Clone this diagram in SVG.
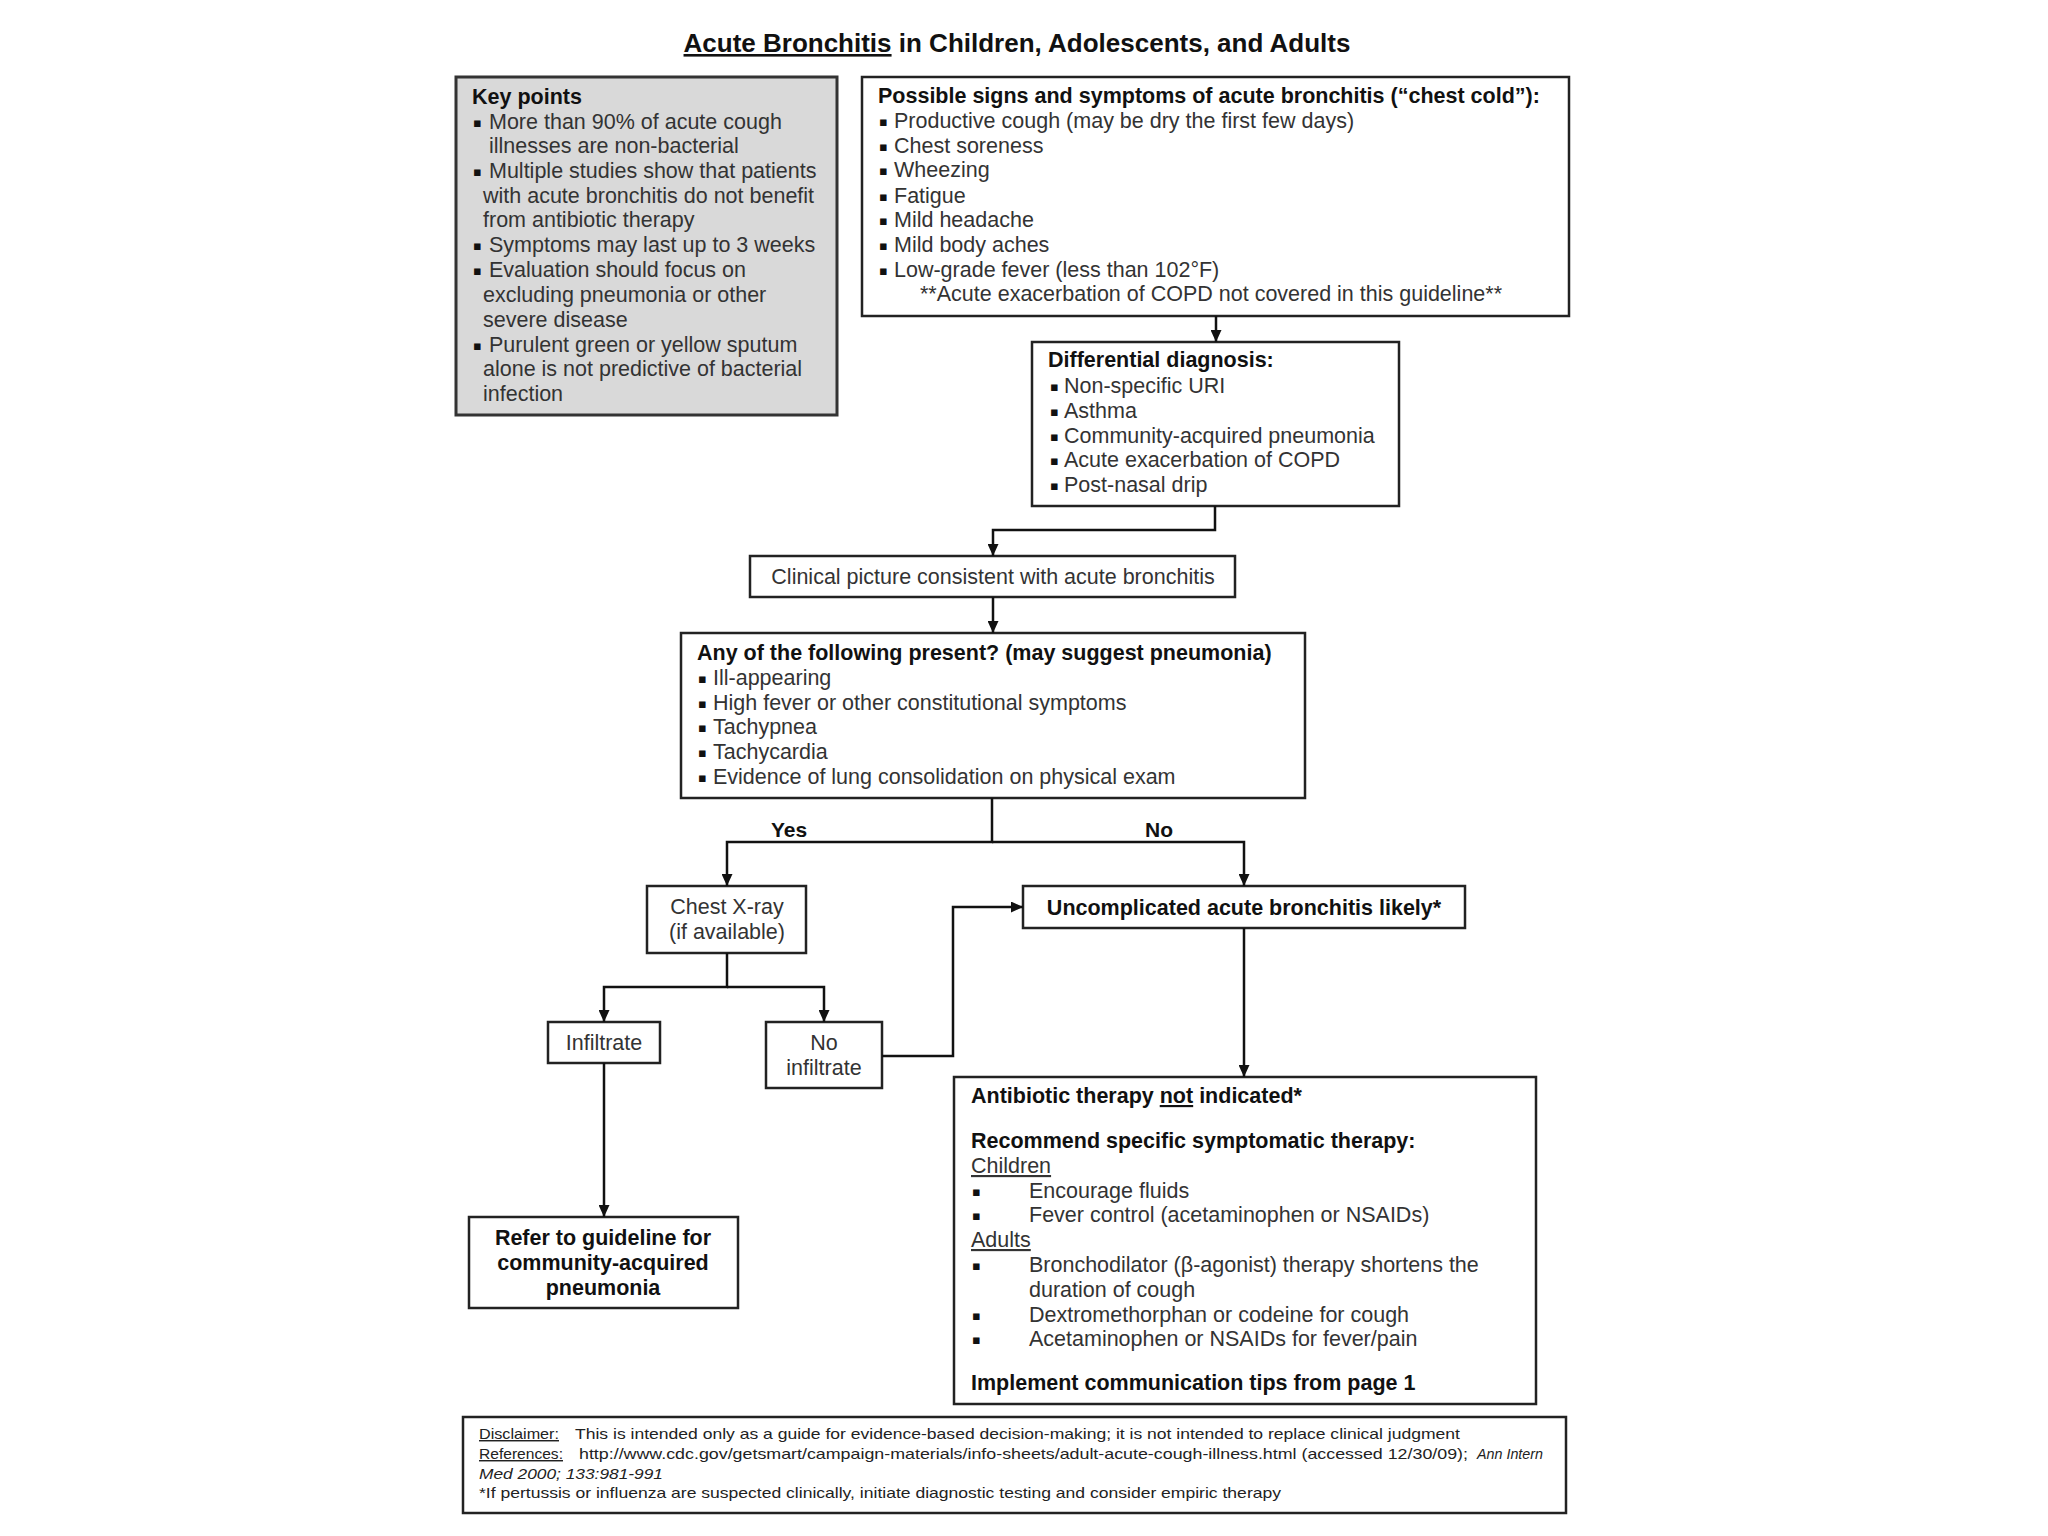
<svg xmlns="http://www.w3.org/2000/svg" width="2048" height="1536" viewBox="0 0 2048 1536">
<style>
.t{font-family:"Liberation Sans",Arial,"DejaVu Sans",sans-serif;font-size:21.5px;fill:#333}
.b{font-weight:bold;fill:#111}
.c{text-anchor:middle}
.u{text-decoration:underline}
.f{font-size:14.5px;fill:#222}
.i{font-style:italic}
.box{fill:#fff;stroke:#222;stroke-width:2.5}
.key{fill:#d9d9d9;stroke:#333;stroke-width:3}
.ln{fill:none;stroke:#111;stroke-width:2.5}
.bl{font-family:"DejaVu Sans",sans-serif;font-size:13px;fill:#111}
</style>
<defs>
<marker id="ah" markerUnits="userSpaceOnUse" markerWidth="12" markerHeight="11" refX="12" refY="5.5" orient="auto">
<path d="M0,0 L12,5.5 L0,11 z" fill="#111"/>
</marker>
</defs>
<rect width="2048" height="1536" fill="#fff"/>

<g id="title">
<text class="t b c" x="1017" y="52" style="font-size:26px"><tspan class="u">Acute Bronchitis</tspan> in Children, Adolescents, and Adults</text>
</g>

<g id="keypoints">
<rect class="key" x="456" y="77" width="381" height="338"/>
<text class="t b" x="472" y="104">Key points</text>
<text class="bl" x="473" y="127">▪</text><text class="t" x="489" y="129">More than 90% of acute cough</text>
<text class="t" x="489" y="153">illnesses are non-bacterial</text>
<text class="bl" x="473" y="176">▪</text><text class="t" x="489" y="178">Multiple studies show that patients</text>
<text class="t" x="483" y="203">with acute bronchitis do not benefit</text>
<text class="t" x="483" y="227">from antibiotic therapy</text>
<text class="bl" x="473" y="250">▪</text><text class="t" x="489" y="252">Symptoms may last up to 3 weeks</text>
<text class="bl" x="473" y="275">▪</text><text class="t" x="489" y="277">Evaluation should focus on</text>
<text class="t" x="483" y="302">excluding pneumonia or other</text>
<text class="t" x="483" y="327">severe disease</text>
<text class="bl" x="473" y="350">▪</text><text class="t" x="489" y="352">Purulent green or yellow sputum</text>
<text class="t" x="483" y="376">alone is not predictive of bacterial</text>
<text class="t" x="483" y="401">infection</text>
</g>

<g id="signs">
<rect class="box" x="862" y="77" width="707" height="239"/>
<text class="t b" x="878" y="103">Possible signs and symptoms of acute bronchitis (“chest cold”):</text>
<text class="bl" x="879" y="126">▪</text><text class="t" x="894" y="128">Productive cough (may be dry the first few days)</text>
<text class="bl" x="879" y="151">▪</text><text class="t" x="894" y="153">Chest soreness</text>
<text class="bl" x="879" y="175">▪</text><text class="t" x="894" y="177">Wheezing</text>
<text class="bl" x="879" y="201">▪</text><text class="t" x="894" y="203">Fatigue</text>
<text class="bl" x="879" y="225">▪</text><text class="t" x="894" y="227">Mild headache</text>
<text class="bl" x="879" y="250">▪</text><text class="t" x="894" y="252">Mild body aches</text>
<text class="bl" x="879" y="275">▪</text><text class="t" x="894" y="277">Low-grade fever (less than 102°F)</text>
<text class="t" x="920" y="301">**Acute exacerbation of COPD not covered in this guideline**</text>
</g>

<g id="differential">
<rect class="box" x="1032" y="342" width="367" height="164"/>
<text class="t b" x="1048" y="367">Differential diagnosis:</text>
<text class="bl" x="1050" y="391">▪</text><text class="t" x="1064" y="393">Non-specific URI</text>
<text class="bl" x="1050" y="416">▪</text><text class="t" x="1064" y="418">Asthma</text>
<text class="bl" x="1050" y="441">▪</text><text class="t" x="1064" y="443">Community-acquired pneumonia</text>
<text class="bl" x="1050" y="465">▪</text><text class="t" x="1064" y="467">Acute exacerbation of COPD</text>
<text class="bl" x="1050" y="490">▪</text><text class="t" x="1064" y="492">Post-nasal drip</text>
</g>

<g id="clinical">
<rect class="box" x="750" y="556" width="485" height="41"/>
<text class="t c" x="993" y="584">Clinical picture consistent with acute bronchitis</text>
</g>

<g id="anyof">
<rect class="box" x="681" y="633" width="624" height="165"/>
<text class="t b" x="697" y="660">Any of the following present? (may suggest pneumonia)</text>
<text class="bl" x="698" y="683">▪</text><text class="t" x="713" y="685">Ill-appearing</text>
<text class="bl" x="698" y="708">▪</text><text class="t" x="713" y="710">High fever or other constitutional symptoms</text>
<text class="bl" x="698" y="732">▪</text><text class="t" x="713" y="734">Tachypnea</text>
<text class="bl" x="698" y="757">▪</text><text class="t" x="713" y="759">Tachycardia</text>
<text class="bl" x="698" y="782">▪</text><text class="t" x="713" y="784">Evidence of lung consolidation on physical exam</text>
</g>

<g id="labels">
<text class="t b c" x="789" y="837" style="font-size:21px">Yes</text>
<text class="t b c" x="1159" y="837" style="font-size:21px">No</text>
</g>

<g id="chestxray">
<rect class="box" x="647" y="886" width="159" height="67"/>
<text class="t c" x="727" y="914">Chest X-ray</text>
<text class="t c" x="727" y="939">(if available)</text>
</g>

<g id="uncomplicated">
<rect class="box" x="1023" y="886" width="442" height="42"/>
<text class="t b c" x="1244" y="915">Uncomplicated acute bronchitis likely*</text>
</g>

<g id="infiltrate">
<rect class="box" x="548" y="1022" width="112" height="41"/>
<text class="t c" x="604" y="1050">Infiltrate</text>
</g>

<g id="noinfiltrate">
<rect class="box" x="766" y="1022" width="116" height="66"/>
<text class="t c" x="824" y="1050">No</text>
<text class="t c" x="824" y="1075">infiltrate</text>
</g>

<g id="refer">
<rect class="box" x="469" y="1217" width="269" height="91"/>
<text class="t b c" x="603" y="1245">Refer to guideline for</text>
<text class="t b c" x="603" y="1270">community-acquired</text>
<text class="t b c" x="603" y="1295">pneumonia</text>
</g>

<g id="antibiotic">
<rect class="box" x="954" y="1077" width="582" height="327"/>
<text class="t b" x="971" y="1103">Antibiotic therapy <tspan class="u">not</tspan> indicated*</text>
<text class="t b" x="971" y="1148">Recommend specific symptomatic therapy:</text>
<text class="t u" x="971" y="1173">Children</text>
<text class="bl" x="972" y="1196">▪</text><text class="t" x="1029" y="1198">Encourage fluids</text>
<text class="bl" x="972" y="1220">▪</text><text class="t" x="1029" y="1222">Fever control (acetaminophen or NSAIDs)</text>
<text class="t u" x="971" y="1247">Adults</text>
<text class="bl" x="972" y="1270">▪</text><text class="t" x="1029" y="1272">Bronchodilator (β-agonist) therapy shortens the</text>
<text class="t" x="1029" y="1297">duration of cough</text>
<text class="bl" x="972" y="1320">▪</text><text class="t" x="1029" y="1322">Dextromethorphan or codeine for cough</text>
<text class="bl" x="972" y="1344">▪</text><text class="t" x="1029" y="1346">Acetaminophen or NSAIDs for fever/pain</text>
<text class="t b" x="971" y="1390">Implement communication tips from page 1</text>
</g>

<g id="footer">
<rect class="box" x="463" y="1417" width="1103" height="96"/>
<text class="t f u" x="479" y="1439" textLength="80" lengthAdjust="spacingAndGlyphs">Disclaimer:</text>
<text class="t f" x="575" y="1439" textLength="885" lengthAdjust="spacingAndGlyphs">This is intended only as a guide for evidence-based decision-making; it is not intended to replace clinical judgment</text>
<text class="t f u" x="479" y="1459" textLength="84" lengthAdjust="spacingAndGlyphs">References:</text>
<text class="t f" x="579" y="1459" textLength="889" lengthAdjust="spacingAndGlyphs">http://www.cdc.gov/getsmart/campaign-materials/info-sheets/adult-acute-cough-illness.html (accessed 12/30/09);</text>
<text class="t f i" x="1477" y="1459" textLength="66" lengthAdjust="spacingAndGlyphs">Ann Intern</text>
<text class="t f i" x="479" y="1479" textLength="184" lengthAdjust="spacingAndGlyphs">Med 2000; 133:981-991</text>
<text class="t f" x="479" y="1498" textLength="802" lengthAdjust="spacingAndGlyphs">*If pertussis or influenza are suspected clinically, initiate diagnostic testing and consider empiric therapy</text>
</g>

<g id="connectors">
<path class="ln" d="M1216 316 V342" marker-end="url(#ah)"/>
<path class="ln" d="M1215 506 V530 H993 V556" marker-end="url(#ah)"/>
<path class="ln" d="M993 597 V633" marker-end="url(#ah)"/>
<path class="ln" d="M992 798 V842 H727 V886" marker-end="url(#ah)"/>
<path class="ln" d="M992 842 H1244 V886" marker-end="url(#ah)"/>
<path class="ln" d="M727 953 V987 H604 V1022" marker-end="url(#ah)"/>
<path class="ln" d="M727 987 H824 V1022" marker-end="url(#ah)"/>
<path class="ln" d="M604 1063 V1217" marker-end="url(#ah)"/>
<path class="ln" d="M882 1056 H953 V907 H1023" marker-end="url(#ah)"/>
<path class="ln" d="M1244 928 V1077" marker-end="url(#ah)"/>
</g>
</svg>
